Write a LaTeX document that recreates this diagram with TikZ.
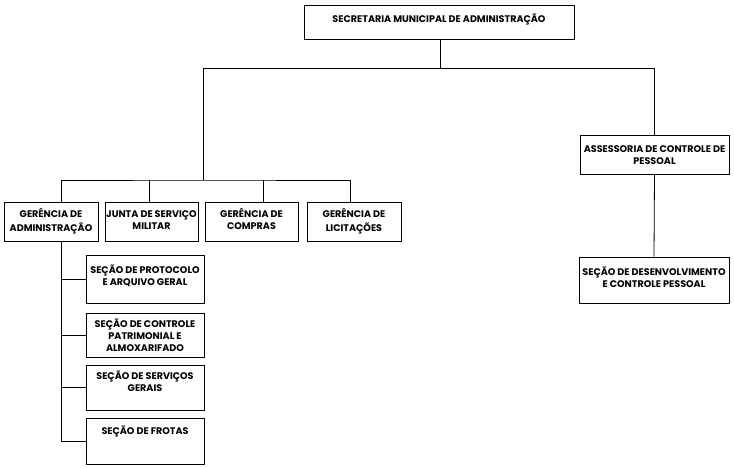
\documentclass[tikz,border=0pt]{standalone}
\usepackage{fontspec}
\setmainfont{Poppins}
\begin{document}
\begin{tikzpicture}[x=1pt,y=-1pt,
  box/.style={draw=black, line width=0.8pt, inner sep=0pt, fill=white},
  txt/.style={inner sep=0pt, anchor=north, align=center, font=\bfseries\fontsize{9.6}{12}\selectfont},
  conn/.style={draw=black, line width=0.8pt}]
\useasboundingbox (0,0) rectangle (734,467);
\newcommand{\orgbox}[7]{%
  \node[box, minimum width={(#4-#2)*1pt}, minimum height={(#5-#3)*1pt}] (#1) at ({(#2+#4)/2},{(#3+#5)/2}) {};
  \node[txt] (#1-t) at ([yshift={-(#6-5)*1pt}]#1.north) {\strut #7};
}
\orgbox{sec}{304}{5}{574}{39}{14}{SECRETARIA MUNICIPAL DE ADMINISTRAÇÃO}
\orgbox{adm}{4}{202}{98}{241}{12}{GERÊNCIA DE\\ADMINISTRAÇÃO}
\orgbox{jun}{105}{202}{198}{241}{12}{JUNTA DE SERVIÇO\\MILITAR}
\orgbox{com}{205}{202}{298}{241}{12}{GERÊNCIA DE\\COMPRAS}
\orgbox{lic}{307}{202}{401}{241}{12}{GERÊNCIA DE\\LICITAÇÕES}
\orgbox{ass}{580}{135}{729}{174}{14}{ASSESSORIA DE CONTROLE DE\\PESSOAL}
\orgbox{sdc}{579}{257}{729}{303}{15}{SEÇÃO DE DESENVOLVIMENTO\\E CONTROLE PESSOAL}
\orgbox{s1}{86}{255}{204}{303}{15}{SEÇÃO DE PROTOCOLO\\E ARQUIVO GERAL}
\orgbox{s2}{86}{313}{204}{357}{11}{SEÇÃO DE CONTROLE\\PATRIMONIAL E\\ALMOXARIFADO}
\orgbox{s3}{86}{365}{204}{410}{11}{SEÇÃO DE SERVIÇOS\\GERAIS}
\orgbox{s4}{86}{418}{204}{464}{13}{SEÇÃO DE FROTAS}
% junctions
\coordinate (jT) at (440,68);
\coordinate (jL) at (203,68);
\coordinate (jM) at (203,180);
\coordinate (aN) at (61,202);
\coordinate (aS) at (61,241);
\coordinate (juN) at (149,202);
\coordinate (coN) at (263,202);
\coordinate (liN) at (350,202);
% connectors
\draw[conn] (sec.south -| jT) -- (jT);
\draw[conn] (jL) -| (ass.north);
\draw[conn] (jL) -- (jM);
\draw[conn] (aN) |- (jM) -| (liN);
\draw[conn] (juN) -- (juN |- jM);
\draw[conn] (coN) -- (coN |- jM);
\draw[conn] (ass.south) -- (sdc.north);
\draw[conn] (aS) |- (s4.west);
\draw[conn] (s1.west) -- (s1.west -| aS);
\draw[conn] (s2.west) -- (s2.west -| aS);
\draw[conn] (s3.west) -- (s3.west -| aS);
\end{tikzpicture}
\end{document}
